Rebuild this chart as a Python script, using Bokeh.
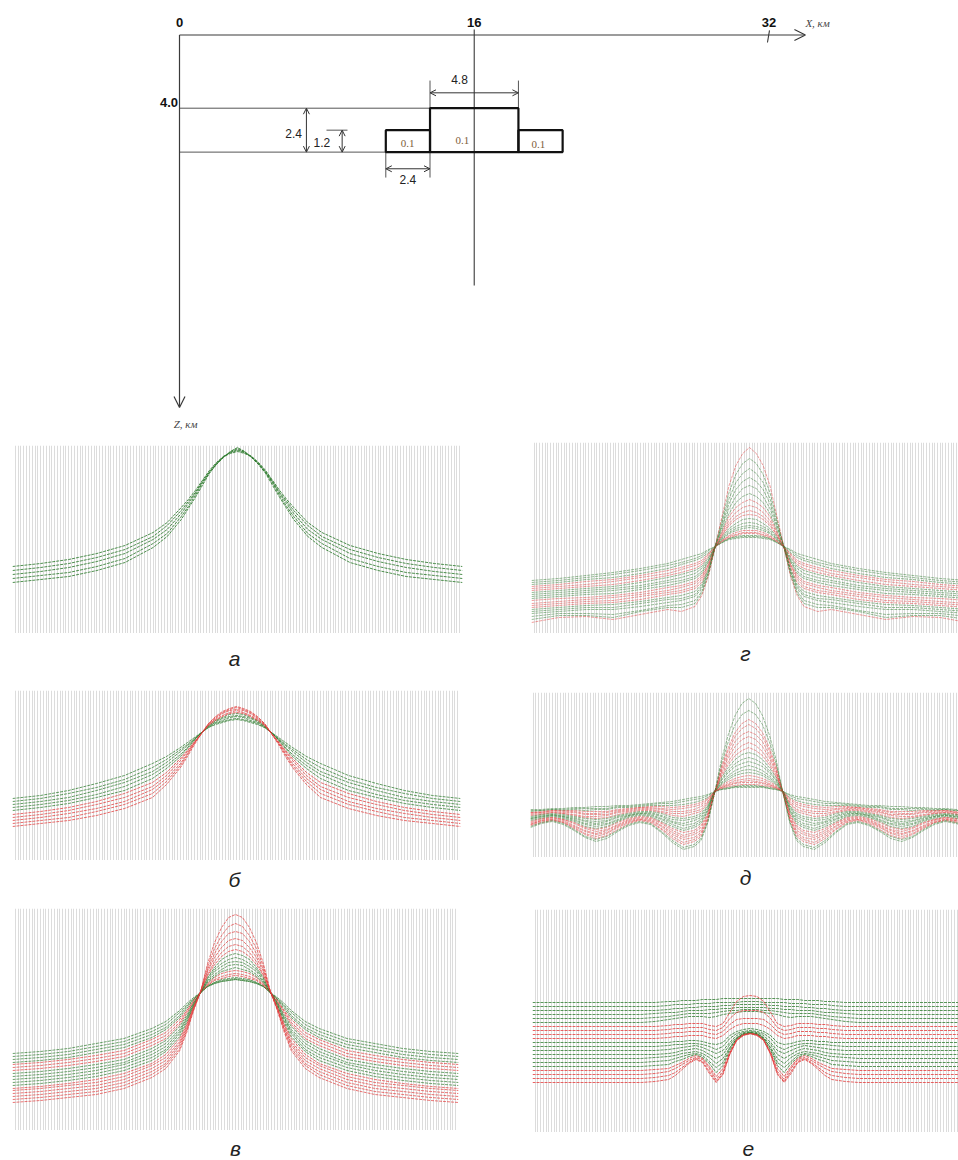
from bokeh.plotting import figure
from bokeh.layouts import column, row
from bokeh.models import Range1d, Grid, FixedTicker, Arrow, OpenHead, ColumnDataSource
from bokeh.core.properties import value
from bokeh.embed import file_html
from bokeh.resources import INLINE

# ---------------- model (top scheme), km ----------------
BODY_LEFT = [11.2, 13.6, 18.4]
BODY_RIGHT = [13.6, 18.4, 20.8]
BODY_TOP = [5.2, 4.0, 5.2]
BODY_BOTTOM = [6.4, 6.4, 6.4]
BODY_DENSITY = ["0.1", "0.1", "0.1"]
X_TICKS = [0, 16, 32]

# ---------------- profiles: x (km) ----------------
X_VG = [0, 2, 4, 6, 8, 10, 11, 12, 12.5, 13, 13.5, 14, 14.5, 15, 15.5, 16, 16.5, 17, 17.5, 18, 18.5,
        19, 19.5, 20, 21, 22, 24, 26, 28, 30, 32]
X_D = [0, 0.8, 1.6, 2.4, 3.2, 4.0, 4.8, 5.6, 6.4, 7.2, 8.0, 8.8, 9.6, 10.4, 11.2, 12.0, 12.5, 13, 13.5,
       14, 14.5, 15, 15.5, 16, 16.5, 17, 17.5, 18, 18.5, 19, 19.5, 20.0, 20.8, 21.6, 22.4, 23.2, 24.0,
       24.8, 25.6, 26.4, 27.2, 28.0, 28.8, 29.6, 30.4, 31.2, 32]
X_E = [0, 4, 8, 9, 10, 10.5, 11, 11.5, 12, 12.5, 13, 13.5, 14, 14.5, 15, 15.5, 16, 16.5, 17, 17.5, 18,
       18.5, 19, 19.5, 20, 20.5, 21, 21.5, 22, 23, 24, 28, 32]

# panel а
A_CURVES = [
    [67, 70, 74, 80, 88, 101, 111, 126, 134, 143, 153, 163, 171, 177, 180, 182, 180, 177, 171, 163, 153, 143, 134, 126, 111, 101, 88, 80, 74, 70, 67],
    [63, 66, 70, 76, 84, 97, 108, 123, 132, 141, 152, 162, 170, 177, 181, 183, 181, 177, 170, 162, 152, 141, 132, 123, 108, 97, 84, 76, 70, 66, 63],
    [59, 62, 66, 72, 80, 94, 104, 120, 130, 140, 151, 161, 170, 177, 181, 184, 181, 177, 170, 161, 151, 140, 130, 120, 104, 94, 80, 72, 66, 62, 59],
    [55, 58, 61, 67, 75, 90, 100, 117, 127, 138, 150, 161, 169, 176, 182, 185, 182, 176, 169, 161, 150, 138, 127, 117, 100, 90, 75, 67, 61, 58, 55],
    [51, 54, 57, 63, 71, 86, 97, 114, 125, 136, 148, 160, 169, 176, 182, 186, 182, 176, 169, 160, 148, 136, 125, 114, 97, 86, 71, 63, 57, 54, 51],
]
A_SETS = ["g", "g", "g", "g", "g"]

# panel б
B_CURVES = [
    [62, 65, 70, 77, 85, 97, 104, 113, 118, 123, 128, 133, 136, 138, 140, 141, 140, 138, 136, 133, 128, 123, 118, 113, 104, 97, 85, 77, 70, 65, 62],
    [59, 62, 67, 73, 81, 93, 101, 111, 116, 122, 128, 133, 137, 139, 141, 142, 141, 139, 137, 133, 128, 122, 116, 111, 101, 93, 81, 73, 67, 62, 59],
    [56, 59, 63, 70, 78, 89, 98, 109, 115, 121, 128, 134, 138, 140, 143, 144, 143, 140, 138, 134, 128, 121, 115, 109, 98, 89, 78, 70, 63, 59, 56],
    [53, 56, 60, 66, 74, 86, 95, 106, 113, 121, 128, 134, 139, 142, 144, 145, 144, 142, 139, 134, 128, 121, 113, 106, 95, 86, 74, 66, 60, 56, 53],
    [50, 53, 57, 63, 70, 82, 92, 104, 112, 120, 128, 135, 140, 143, 146, 147, 146, 143, 140, 135, 128, 120, 112, 104, 92, 82, 70, 63, 57, 53, 50],
    [46, 49, 53, 59, 67, 78, 88, 102, 110, 119, 127, 135, 140, 144, 147, 148, 147, 144, 140, 135, 127, 119, 110, 102, 88, 78, 67, 59, 53, 49, 46],
    [43, 46, 50, 56, 63, 74, 85, 100, 109, 118, 127, 136, 141, 145, 148, 150, 148, 145, 141, 136, 127, 118, 109, 100, 85, 74, 63, 56, 50, 46, 43],
    [40, 43, 47, 52, 59, 71, 82, 97, 107, 118, 127, 136, 142, 147, 150, 151, 150, 147, 142, 136, 127, 118, 107, 97, 82, 71, 59, 52, 47, 43, 40],
    [37, 40, 43, 49, 56, 67, 79, 95, 106, 117, 127, 137, 143, 148, 151, 153, 151, 148, 143, 137, 127, 117, 106, 95, 79, 67, 56, 49, 43, 40, 37],
    [34, 37, 40, 45, 52, 63, 76, 93, 104, 116, 127, 137, 144, 149, 152, 154, 152, 149, 144, 137, 127, 116, 104, 93, 76, 63, 52, 45, 40, 37, 34],
]
B_SETS = ["g", "g", "g", "g", "g", "r", "r", "r", "r", "r"]

# panel в
V_CURVES = [
    [77, 79, 82, 87, 92, 102, 109, 120, 127, 133, 138, 144, 147, 149, 150, 151, 150, 149, 147, 144, 138, 133, 127, 120, 109, 102, 92, 87, 82, 79, 77],
    [74, 76, 79, 84, 89, 99, 106, 118, 125, 132, 138, 144, 147, 149, 150, 151, 150, 149, 147, 144, 138, 132, 125, 118, 106, 99, 89, 84, 79, 76, 74],
    [71, 73, 76, 81, 86, 96, 103, 115, 124, 131, 138, 144, 148, 150, 151, 152, 151, 150, 148, 144, 138, 131, 124, 115, 103, 96, 86, 81, 76, 73, 71],
    [68, 70, 73, 78, 83, 93, 101, 113, 122, 131, 138, 145, 148, 151, 152, 153, 152, 151, 148, 145, 138, 131, 122, 113, 101, 93, 83, 78, 73, 70, 68],
    [66, 68, 71, 75, 80, 91, 98, 111, 120, 130, 138, 145, 150, 152, 154, 155, 154, 152, 150, 145, 138, 130, 120, 111, 98, 91, 80, 75, 71, 68, 66],
    [63, 65, 68, 72, 77, 88, 95, 108, 119, 129, 138, 146, 151, 154, 156, 157, 156, 154, 151, 146, 138, 129, 119, 108, 95, 88, 77, 72, 68, 65, 63],
    [60, 62, 65, 69, 74, 85, 92, 106, 117, 128, 138, 147, 153, 157, 159, 160, 159, 157, 153, 147, 138, 128, 117, 106, 92, 85, 74, 69, 65, 62, 60],
    [57, 59, 62, 66, 71, 82, 90, 104, 115, 128, 138, 148, 154, 159, 161, 163, 161, 159, 154, 148, 138, 128, 115, 104, 90, 82, 71, 66, 62, 59, 57],
    [54, 56, 59, 63, 68, 79, 87, 101, 113, 127, 138, 149, 156, 161, 165, 166, 165, 161, 156, 149, 138, 127, 113, 101, 87, 79, 68, 63, 59, 56, 54],
    [51, 53, 56, 60, 66, 76, 84, 99, 112, 126, 138, 150, 159, 164, 168, 169, 168, 164, 159, 150, 138, 126, 112, 99, 84, 76, 66, 60, 56, 53, 51],
    [48, 50, 53, 57, 63, 73, 81, 97, 110, 125, 138, 152, 161, 167, 171, 173, 171, 167, 161, 152, 138, 125, 110, 97, 81, 73, 63, 57, 53, 50, 48],
    [45, 47, 50, 54, 60, 70, 79, 94, 108, 125, 138, 153, 163, 171, 175, 177, 175, 171, 163, 153, 138, 125, 108, 94, 79, 70, 60, 54, 50, 47, 45],
    [42, 44, 47, 51, 57, 67, 76, 92, 106, 124, 139, 155, 166, 174, 179, 181, 179, 174, 166, 155, 139, 124, 106, 92, 76, 67, 57, 51, 47, 44, 42],
    [40, 42, 45, 48, 54, 65, 73, 89, 105, 123, 139, 156, 169, 178, 184, 186, 184, 178, 169, 156, 139, 123, 105, 89, 73, 65, 54, 48, 45, 42, 40],
    [37, 39, 42, 45, 51, 62, 70, 87, 103, 122, 139, 159, 173, 183, 190, 192, 190, 183, 173, 159, 139, 122, 103, 87, 70, 62, 51, 45, 42, 39, 37],
    [34, 36, 39, 42, 48, 59, 67, 85, 101, 122, 139, 161, 177, 189, 197, 199, 197, 189, 177, 161, 139, 122, 101, 85, 67, 59, 48, 42, 39, 36, 34],
    [31, 33, 36, 39, 45, 56, 65, 82, 100, 121, 139, 164, 182, 195, 204, 207, 204, 195, 182, 164, 139, 121, 100, 82, 65, 56, 45, 39, 36, 33, 31],
    [28, 30, 33, 36, 42, 53, 62, 80, 98, 120, 139, 167, 188, 203, 213, 216, 213, 203, 188, 167, 139, 120, 98, 80, 62, 53, 42, 36, 33, 30, 28],
]
V_SETS = ["g", "g", "g", "g", "r", "r", "r", "g", "g", "g", "g", "g", "r", "r", "r", "r", "r", "r"]

# panel г
G_CURVES = [
    [53, 55, 58, 61, 65, 70, 74, 78, 80, 84, 87, 91, 94, 95, 96, 96, 96, 95, 94, 91, 87, 84, 80, 78, 74, 70, 65, 61, 58, 55, 53],
    [51, 53, 56, 59, 63, 68, 71, 75, 78, 83, 87, 91, 95, 96, 97, 97, 97, 96, 95, 91, 87, 83, 78, 75, 71, 68, 63, 59, 56, 53, 51],
    [49, 51, 54, 56, 60, 65, 69, 73, 76, 81, 87, 92, 95, 97, 98, 98, 98, 97, 95, 92, 87, 81, 76, 73, 69, 65, 60, 56, 54, 51, 49],
    [47, 49, 52, 54, 58, 63, 66, 70, 73, 80, 87, 92, 96, 98, 100, 100, 100, 98, 96, 92, 87, 80, 73, 70, 66, 63, 58, 54, 52, 49, 47],
    [45, 47, 49, 52, 56, 60, 64, 68, 71, 79, 87, 93, 97, 99, 101, 101, 101, 99, 97, 93, 87, 79, 71, 68, 64, 60, 56, 52, 49, 47, 45],
    [43, 45, 47, 49, 53, 58, 61, 65, 69, 77, 87, 93, 98, 101, 103, 103, 103, 101, 98, 93, 87, 77, 69, 65, 61, 58, 53, 49, 47, 45, 43],
    [41, 43, 45, 47, 51, 56, 59, 63, 67, 76, 87, 94, 100, 103, 105, 106, 105, 103, 100, 94, 87, 76, 67, 63, 59, 56, 51, 47, 45, 43, 41],
    [39, 41, 43, 45, 48, 53, 56, 60, 65, 74, 87, 95, 101, 105, 107, 108, 107, 105, 101, 95, 87, 74, 65, 60, 56, 53, 48, 45, 43, 41, 39],
    [37, 39, 41, 43, 46, 51, 53, 57, 62, 73, 87, 96, 103, 107, 110, 111, 110, 107, 103, 96, 87, 73, 62, 57, 53, 51, 46, 43, 41, 39, 37],
    [35, 37, 39, 40, 44, 48, 51, 55, 60, 72, 87, 97, 105, 110, 114, 115, 114, 110, 105, 97, 87, 72, 60, 55, 51, 48, 44, 40, 39, 37, 35],
    [33, 35, 36, 38, 41, 46, 48, 52, 58, 70, 87, 98, 108, 114, 118, 119, 118, 114, 108, 98, 87, 70, 58, 52, 48, 46, 41, 38, 36, 35, 33],
    [30, 32, 34, 36, 39, 43, 46, 50, 56, 69, 87, 99, 110, 117, 121, 123, 121, 117, 110, 99, 87, 69, 56, 50, 46, 43, 39, 36, 34, 32, 30],
    [28, 30, 32, 33, 37, 41, 43, 47, 54, 68, 87, 101, 113, 121, 126, 128, 126, 121, 113, 101, 87, 68, 54, 47, 43, 41, 37, 33, 32, 30, 28],
    [26, 28, 30, 31, 34, 39, 41, 45, 51, 66, 87, 102, 117, 126, 131, 134, 131, 126, 117, 102, 87, 66, 51, 45, 41, 39, 34, 31, 30, 28, 26],
    [24, 26, 28, 29, 32, 36, 38, 42, 49, 65, 88, 104, 120, 131, 137, 140, 137, 131, 120, 104, 88, 65, 49, 42, 38, 36, 32, 29, 28, 26, 24],
    [22, 24, 26, 26, 30, 34, 35, 39, 47, 63, 88, 107, 125, 137, 145, 148, 145, 137, 125, 107, 88, 63, 47, 39, 35, 34, 30, 26, 26, 24, 22],
    [20, 22, 24, 24, 27, 31, 33, 37, 45, 62, 88, 109, 130, 144, 152, 156, 152, 144, 130, 109, 88, 62, 45, 37, 33, 31, 27, 24, 24, 22, 20],
    [17, 20, 20, 19, 23, 28, 29, 33, 42, 61, 88, 112, 135, 151, 160, 165, 160, 151, 135, 112, 88, 61, 42, 33, 29, 28, 23, 19, 20, 20, 17],
    [14, 18, 18, 16, 22, 26, 26, 30, 40, 59, 88, 115, 141, 159, 170, 175, 170, 159, 141, 115, 88, 59, 40, 30, 26, 26, 22, 16, 18, 18, 14],
    [11, 16, 17, 14, 19, 24, 22, 27, 38, 58, 88, 118, 148, 168, 180, 186, 180, 168, 148, 118, 88, 58, 38, 27, 22, 24, 19, 14, 17, 16, 11],
]
G_SETS = ["g", "g", "g", "r", "r", "r", "g", "g", "g", "g", "r", "r", "r", "r", "g", "g", "g", "g", "g", "r"]

# panel д
D_CURVES = [
    [48, 48, 49, 49, 50, 50, 51, 51, 52, 52, 53, 54, 55, 56, 58, 60, 61, 63, 66, 68, 69, 70, 70, 70, 70, 70, 69, 68, 66, 63, 61, 60, 58, 56, 55, 54, 53, 52, 52, 51, 51, 50, 50, 49, 49, 48, 48],
    [47, 47, 48, 48, 49, 49, 49, 49, 51, 51, 52, 53, 54, 54, 56, 58, 59, 62, 66, 68, 69, 71, 71, 71, 71, 71, 69, 68, 66, 62, 59, 58, 56, 54, 54, 53, 52, 51, 51, 49, 49, 49, 49, 48, 48, 47, 47],
    [46, 47, 48, 47, 48, 47, 48, 48, 50, 50, 51, 52, 52, 52, 53, 55, 57, 60, 66, 69, 70, 71, 72, 72, 72, 71, 70, 69, 66, 60, 57, 55, 53, 52, 52, 52, 51, 50, 50, 48, 48, 47, 48, 47, 48, 47, 46],
    [45, 46, 47, 47, 47, 46, 46, 46, 48, 49, 50, 51, 51, 50, 51, 53, 55, 59, 66, 69, 71, 72, 73, 73, 73, 72, 71, 69, 66, 59, 55, 53, 51, 50, 51, 51, 50, 49, 48, 46, 46, 46, 47, 47, 47, 46, 45],
    [45, 45, 47, 46, 46, 44, 44, 45, 47, 48, 50, 50, 49, 48, 49, 51, 53, 58, 66, 70, 72, 74, 75, 75, 75, 74, 72, 70, 66, 58, 53, 51, 49, 48, 49, 50, 50, 48, 47, 45, 44, 44, 46, 46, 47, 45, 45],
    [44, 45, 46, 45, 45, 43, 43, 43, 46, 47, 49, 49, 48, 46, 46, 48, 51, 56, 66, 70, 73, 75, 76, 77, 76, 75, 73, 70, 66, 56, 51, 48, 46, 46, 48, 49, 49, 47, 46, 43, 43, 43, 45, 45, 46, 45, 44],
    [43, 44, 45, 44, 43, 41, 41, 42, 45, 46, 48, 48, 46, 44, 44, 46, 48, 55, 66, 71, 74, 77, 78, 79, 78, 77, 74, 71, 66, 55, 48, 46, 44, 44, 46, 48, 48, 46, 45, 42, 41, 41, 43, 44, 45, 44, 43],
    [42, 43, 45, 44, 42, 40, 39, 40, 43, 45, 47, 47, 45, 42, 41, 44, 46, 54, 66, 72, 76, 79, 81, 82, 81, 79, 76, 72, 66, 54, 46, 44, 41, 42, 45, 47, 47, 45, 43, 40, 39, 40, 42, 44, 45, 43, 42],
    [41, 43, 44, 43, 41, 39, 38, 39, 42, 44, 46, 46, 44, 40, 39, 41, 44, 52, 66, 73, 78, 82, 84, 85, 84, 82, 78, 73, 66, 52, 44, 41, 39, 40, 44, 46, 46, 44, 42, 39, 38, 39, 41, 43, 44, 43, 41],
    [40, 42, 43, 42, 40, 37, 36, 37, 41, 43, 45, 45, 42, 38, 37, 39, 42, 51, 66, 74, 80, 84, 87, 88, 87, 84, 80, 74, 66, 51, 42, 39, 37, 38, 42, 45, 45, 43, 41, 37, 36, 37, 40, 42, 43, 42, 40],
    [39, 41, 43, 41, 39, 36, 34, 36, 40, 42, 44, 44, 41, 36, 34, 37, 40, 50, 66, 75, 82, 87, 90, 92, 90, 87, 82, 75, 66, 50, 40, 37, 34, 36, 41, 44, 44, 42, 40, 36, 34, 36, 39, 41, 43, 41, 39],
    [39, 41, 42, 41, 38, 34, 33, 34, 38, 42, 44, 43, 39, 35, 32, 34, 38, 48, 66, 77, 85, 91, 94, 96, 94, 91, 85, 77, 66, 48, 38, 34, 32, 35, 39, 43, 44, 42, 38, 34, 33, 34, 38, 41, 42, 41, 39],
    [38, 40, 42, 40, 37, 33, 31, 33, 37, 41, 43, 42, 38, 33, 29, 32, 36, 47, 66, 78, 87, 94, 98, 100, 98, 94, 87, 78, 66, 47, 36, 32, 29, 33, 38, 42, 43, 41, 37, 33, 31, 33, 37, 40, 42, 40, 38],
    [37, 39, 41, 39, 36, 31, 29, 31, 36, 40, 42, 41, 36, 31, 27, 30, 34, 46, 66, 80, 90, 98, 103, 105, 103, 98, 90, 80, 66, 46, 34, 30, 27, 31, 36, 41, 42, 40, 36, 31, 29, 31, 36, 39, 41, 39, 37],
    [36, 39, 40, 38, 35, 30, 28, 30, 35, 39, 41, 40, 35, 29, 25, 27, 32, 44, 66, 81, 93, 102, 107, 110, 107, 102, 93, 81, 66, 44, 32, 27, 25, 29, 35, 40, 41, 39, 35, 30, 28, 30, 35, 38, 40, 39, 36],
    [35, 38, 40, 38, 34, 29, 26, 28, 33, 38, 40, 39, 34, 27, 22, 25, 30, 43, 66, 83, 96, 106, 112, 115, 112, 106, 96, 83, 66, 43, 30, 25, 22, 27, 34, 39, 40, 38, 33, 28, 26, 29, 34, 38, 40, 38, 35],
    [34, 37, 39, 37, 32, 27, 24, 27, 32, 37, 39, 38, 32, 25, 20, 23, 27, 42, 65, 85, 100, 111, 118, 121, 118, 111, 100, 85, 65, 42, 27, 23, 20, 25, 32, 38, 39, 37, 32, 27, 24, 27, 32, 37, 39, 37, 34],
    [33, 37, 38, 36, 31, 26, 23, 25, 31, 36, 38, 37, 31, 23, 18, 20, 25, 40, 65, 87, 103, 116, 123, 126, 123, 116, 103, 87, 65, 40, 25, 20, 18, 23, 31, 37, 38, 36, 31, 25, 23, 26, 31, 36, 38, 37, 33],
    [33, 36, 38, 35, 30, 24, 21, 24, 30, 35, 38, 36, 29, 21, 15, 18, 23, 39, 65, 89, 107, 121, 129, 133, 129, 121, 107, 89, 65, 39, 23, 18, 15, 21, 29, 36, 38, 35, 30, 24, 21, 24, 30, 35, 38, 36, 33],
    [32, 35, 37, 35, 29, 23, 19, 22, 28, 34, 37, 35, 28, 19, 13, 16, 21, 38, 65, 91, 110, 125, 134, 138, 134, 125, 110, 91, 65, 38, 21, 16, 13, 19, 28, 35, 37, 34, 28, 22, 19, 23, 29, 35, 37, 35, 32],
    [31, 35, 37, 34, 28, 21, 18, 21, 27, 33, 36, 34, 26, 17, 10, 13, 19, 36, 65, 94, 116, 133, 143, 147, 143, 133, 116, 94, 65, 36, 19, 13, 10, 17, 26, 34, 36, 33, 27, 21, 18, 21, 28, 34, 37, 35, 31],
    [30, 34, 36, 33, 27, 20, 16, 19, 26, 32, 35, 33, 25, 15, 8, 11, 17, 35, 65, 98, 123, 142, 154, 159, 154, 142, 123, 98, 65, 35, 17, 11, 8, 15, 25, 33, 35, 32, 26, 19, 16, 20, 27, 33, 36, 34, 30],
]
D_SETS = ["g", "g", "g", "r", "r", "r", "r", "r", "g", "g", "g", "g", "g", "g", "r", "r", "r", "r", "r", "r", "g", "g"]

# panel е
E_CURVES = [
    [130, 130, 130, 130, 131, 131, 132, 132, 132, 133, 133, 133, 134, 134, 134, 134, 134, 134, 134, 134, 134, 133, 133, 133, 132, 132, 132, 131, 131, 130, 130, 130, 130],
    [126, 126, 126, 126, 127, 128, 128, 128, 129, 129, 129, 130, 130, 130, 130, 131, 131, 131, 130, 130, 130, 130, 129, 129, 129, 128, 128, 128, 127, 126, 126, 126, 126],
    [122, 122, 122, 122, 123, 124, 124, 125, 125, 126, 126, 126, 127, 127, 128, 128, 128, 128, 128, 127, 127, 126, 126, 126, 125, 125, 124, 124, 123, 122, 122, 122, 122],
    [118, 118, 118, 119, 120, 120, 121, 122, 122, 122, 123, 123, 124, 124, 125, 125, 125, 125, 125, 124, 124, 123, 123, 122, 122, 122, 121, 120, 120, 119, 118, 118, 118],
    [114, 114, 114, 115, 116, 117, 118, 119, 119, 119, 119, 120, 121, 122, 122, 123, 123, 123, 122, 122, 121, 120, 119, 119, 119, 119, 118, 117, 116, 115, 114, 114, 114],
    [110, 110, 110, 111, 113, 114, 115, 116, 116, 116, 115, 116, 118, 119, 120, 121, 121, 121, 120, 119, 118, 116, 115, 116, 116, 116, 115, 114, 113, 111, 110, 110, 110],
    [106, 106, 106, 106, 107, 108, 108, 109, 109, 109, 107, 106, 109, 120, 131, 136, 137, 136, 131, 120, 109, 106, 107, 109, 109, 109, 108, 108, 107, 106, 106, 106, 106],
    [102, 102, 102, 102, 103, 104, 104, 105, 105, 105, 103, 102, 105, 114, 120, 122, 122, 122, 120, 114, 105, 102, 103, 105, 105, 105, 104, 104, 103, 102, 102, 102, 102],
    [98, 98, 98, 98, 99, 100, 100, 101, 101, 101, 99, 98, 101, 108, 113, 114, 114, 114, 113, 108, 101, 98, 99, 101, 101, 101, 100, 100, 99, 98, 98, 98, 98],
    [94, 94, 94, 94, 95, 96, 96, 97, 97, 97, 95, 94, 97, 103, 107, 109, 109, 109, 107, 103, 97, 94, 95, 97, 97, 97, 96, 96, 95, 94, 94, 94, 94],
    [90, 90, 90, 90, 90, 91, 91, 92, 92, 91, 89, 88, 90, 97, 101, 103, 104, 103, 101, 97, 90, 88, 89, 91, 92, 92, 91, 91, 90, 90, 90, 90, 90],
    [86, 86, 86, 86, 87, 88, 88, 89, 89, 88, 86, 83, 86, 94, 99, 101, 102, 101, 99, 94, 86, 83, 86, 88, 89, 89, 88, 88, 87, 86, 86, 86, 86],
    [82, 82, 82, 82, 83, 84, 85, 86, 87, 85, 82, 79, 82, 90, 97, 100, 101, 100, 97, 90, 82, 79, 82, 85, 87, 86, 85, 84, 83, 82, 82, 82, 82],
    [78, 78, 78, 78, 79, 80, 82, 83, 84, 82, 78, 74, 78, 88, 95, 99, 100, 99, 95, 88, 78, 74, 78, 82, 84, 83, 82, 80, 79, 78, 78, 78, 78],
    [74, 74, 74, 75, 76, 77, 79, 80, 81, 79, 75, 69, 74, 85, 94, 99, 100, 99, 94, 85, 74, 69, 75, 79, 81, 80, 79, 77, 76, 75, 74, 74, 74],
    [70, 70, 70, 71, 72, 74, 76, 78, 79, 77, 71, 65, 70, 84, 94, 98, 100, 98, 94, 84, 70, 65, 71, 77, 79, 78, 76, 74, 72, 71, 70, 70, 70],
    [66, 66, 66, 67, 68, 71, 73, 76, 78, 75, 69, 60, 67, 82, 93, 98, 99, 98, 93, 82, 67, 60, 69, 75, 78, 76, 73, 71, 68, 67, 66, 66, 66],
    [62, 62, 62, 63, 64, 67, 70, 74, 77, 74, 66, 56, 64, 80, 93, 98, 99, 98, 93, 80, 64, 56, 66, 74, 77, 74, 70, 67, 64, 63, 62, 62, 62],
    [58, 58, 58, 59, 61, 64, 68, 72, 75, 73, 64, 53, 61, 79, 92, 98, 99, 98, 92, 79, 61, 53, 64, 73, 75, 72, 68, 64, 61, 59, 58, 58, 58],
    [54, 54, 54, 55, 57, 60, 65, 70, 74, 71, 61, 51, 59, 79, 92, 97, 99, 97, 92, 79, 59, 51, 61, 71, 74, 70, 65, 60, 57, 55, 54, 54, 54],
    [50, 50, 50, 51, 53, 57, 63, 69, 73, 70, 59, 50, 58, 78, 92, 97, 99, 97, 92, 78, 58, 50, 59, 70, 73, 69, 63, 57, 53, 51, 50, 50, 50],
]
E_SETS = ["g", "g", "g", "g", "g", "g", "r", "r", "r", "r", "g", "g", "g", "g", "g", "g", "g", "r", "r", "r", "r"]

# ---------------- styling ----------------
GREEN = "#2f7d2f"
RED = "#e33b3b"
GRID_COLOR = "#dcdcdc"
GRID_TICKS = [round(0.2 * k, 1) for k in range(161)]
SANS = value("Liberation Sans")
SERIF = value("Liberation Serif")


def panel(xs, curves, sets, yspan, xmax, fw, fh, bl, br, bt, alpha):
    p = figure(frame_width=fw, frame_height=fh, x_range=Range1d(0, xmax), y_range=Range1d(0, yspan),
               x_axis_type=None, y_axis_type=None, toolbar_location=None, output_backend="svg",
               min_border_left=bl, min_border_right=br, min_border_top=bt, min_border_bottom=0)
    p.outline_line_color = None
    p.add_layout(Grid(dimension=0, ticker=FixedTicker(ticks=GRID_TICKS),
                      grid_line_color=GRID_COLOR, grid_line_width=1))
    src = ColumnDataSource(dict(xs=[xs] * len(curves), ys=curves,
                                color=[GREEN if s == "g" else RED for s in sets]))
    p.multi_line("xs", "ys", source=src, line_color="color", line_width=1,
                 line_alpha=alpha, line_dash="3 1")
    return p


def caption(p, fw, bl, br, h, text, lx, baseline):
    # strip under a panel that carries its letter; shares the panel's x scale (km)
    c = figure(frame_width=fw, frame_height=h, x_range=p.x_range, y_range=Range1d(0, h),
               x_axis_type=None, y_axis_type=None, toolbar_location=None, output_backend="svg",
               min_border_left=bl, min_border_right=br, min_border_top=0, min_border_bottom=0)
    c.outline_line_color = None
    c.text(x=[lx], y=[baseline], text=[text], text_font=SANS, text_font_style="italic",
           text_font_size="21px", text_align="center", text_baseline="alphabetic", text_color="#222222")
    return c


# ---------------- top scheme ----------------
top = figure(width=958, height=438, x_range=Range1d(-9.718, 42.291), y_range=Range1d(22.049, -1.885),
             x_axis_type=None, y_axis_type=None, toolbar_location=None, output_backend="svg",
             min_border=0)
top.outline_line_color = None
AX = "#3a3a3a"
top.add_layout(Arrow(end=OpenHead(size=11, line_color=AX, line_width=1.2),
                     x_start=0, y_start=0, x_end=33.98, y_end=0, line_color=AX, line_width=1.2))
top.add_layout(Arrow(end=OpenHead(size=11, line_color=AX, line_width=1.2),
                     x_start=0, y_start=0, x_end=0, y_end=20.36, line_color=AX, line_width=1.2))
# centre line at 16 km and tick at 32 km
top.segment(x0=[X_TICKS[1], X_TICKS[2] + 0.03], y0=[-0.30, -0.25], x1=[X_TICKS[1], X_TICKS[2] - 0.08],
            y1=[13.69, 0.41], line_color=AX, line_width=1.1)
# depth lines
top.segment(x0=[0, 0], y0=[BODY_TOP[1], BODY_BOTTOM[0]], x1=[BODY_LEFT[1], BODY_LEFT[0]],
            y1=[BODY_TOP[1], BODY_BOTTOM[0]], line_color="#555555", line_width=1)
top.segment(x0=[7.98], y0=[BODY_TOP[0]], x1=[9.12], y1=[BODY_TOP[0]], line_color="#555555", line_width=1)
# extension lines of dimensions
top.segment(x0=[BODY_LEFT[1], BODY_RIGHT[1], BODY_LEFT[0], BODY_RIGHT[0]],
            y0=[2.49, 2.49, BODY_BOTTOM[0], BODY_BOTTOM[0]],
            x1=[BODY_LEFT[1], BODY_RIGHT[1], BODY_LEFT[0], BODY_RIGHT[0]],
            y1=[BODY_TOP[1], BODY_TOP[1], 7.79, 7.79], line_color="#555555", line_width=1)
# bodies
top.quad(left=BODY_LEFT, right=BODY_RIGHT, top=BODY_TOP, bottom=BODY_BOTTOM,
         fill_color=None, line_color="#111111", line_width=2.2)
# dimension arrows
for xs_, ys_, xe_, ye_ in [(BODY_LEFT[1], 3.16, BODY_RIGHT[1], 3.16),
                           (6.89, BODY_TOP[1], 6.89, BODY_BOTTOM[1]),
                           (8.83, BODY_TOP[0], 8.83, BODY_BOTTOM[0]),
                           (BODY_LEFT[0], 7.31, BODY_RIGHT[0], 7.31)]:
    top.add_layout(Arrow(start=OpenHead(size=6, line_color="#333333", line_width=1),
                         end=OpenHead(size=6, line_color="#333333", line_width=1),
                         x_start=xs_, y_start=ys_, x_end=xe_, y_end=ye_, line_color="#333333", line_width=1))

dim_txt = ["%.1f" % (BODY_RIGHT[1] - BODY_LEFT[1]), "%.1f" % (BODY_BOTTOM[1] - BODY_TOP[1]),
           "%.1f" % (BODY_BOTTOM[0] - BODY_TOP[0]), "%.1f" % (BODY_RIGHT[0] - BODY_LEFT[0])]
top.text(x=[15.2, 6.2, 7.73, 12.4], y=[2.45, 5.38, 5.86, 7.92], text=dim_txt,
         text_font=SANS, text_font_size="12px", text_align="center", text_baseline="middle",
         text_color="#222222")
top.text(x=X_TICKS, y=[-0.66] * 3, text=[str(t) for t in X_TICKS], text_font=SANS,
         text_font_style="bold", text_font_size="13px", text_align="center", text_baseline="middle",
         text_color="#111111")
top.text(x=[-0.08], y=[3.69], text=["%.1f" % BODY_TOP[1]], text_font=SANS, text_font_style="bold",
         text_font_size="13px", text_align="right", text_baseline="middle", text_color="#111111")
top.text(x=[12.38, 15.36, 19.48], y=[5.92, 5.79, 5.97], text=BODY_DENSITY, text_font=SERIF,
         text_font_size="11px", text_align="center", text_baseline="middle", text_color="#80603a")
top.text(x=[34.64, 0.33], y=[-0.645, 21.25], text=["X, км", "Z, км"], text_font=SERIF,
         text_font_style="italic", text_font_size="11px", text_align="center", text_baseline="middle",
         text_color="#444444")

# ---------------- panels ----------------
fa = panel(X_VG, A_CURVES, A_SETS, 188, 32, 450, 188, 12, 58, 7, 0.85)
fg = panel(X_VG, G_CURVES, G_SETS, 191, 31.34, 427, 191, 11, 0, 4, 0.5)
fb = panel(X_VG, B_CURVES, B_SETS, 170, 32, 448, 170, 12, 60, 10, 0.75)
fd = panel(X_D, D_CURVES, D_SETS, 165, 31.37, 428, 165, 10, 0, 12, 0.5)
fv = panel(X_VG, V_CURVES, V_SETS, 222, 32, 446, 222, 12, 62, 8, 0.7)
fe = panel(X_E, E_CURVES, E_SETS, 223, 31.31, 426, 223, 12, 0, 9, 0.8)

ca = caption(fa, 450, 12, 58, 47, "а", 15.8, 22)
cg = caption(fg, 427, 11, 0, 47, "г", 15.7, 27)
cb = caption(fb, 448, 12, 60, 40, "б", 15.85, 21)
cd = caption(fd, 428, 10, 0, 43, "д", 15.76, 23)
cv = caption(fv, 446, 12, 62, 30, "в", 16.0, 12)
ce = caption(fe, 426, 12, 0, 28, "е", 15.86, 12)

layout = column(top,
                row(column(fa, ca), column(fg, cg)),
                row(column(fb, cb), column(fd, cd)),
                row(column(fv, cv), column(fe, ce)))
open("out.html", "w").write(file_html(layout, INLINE))
